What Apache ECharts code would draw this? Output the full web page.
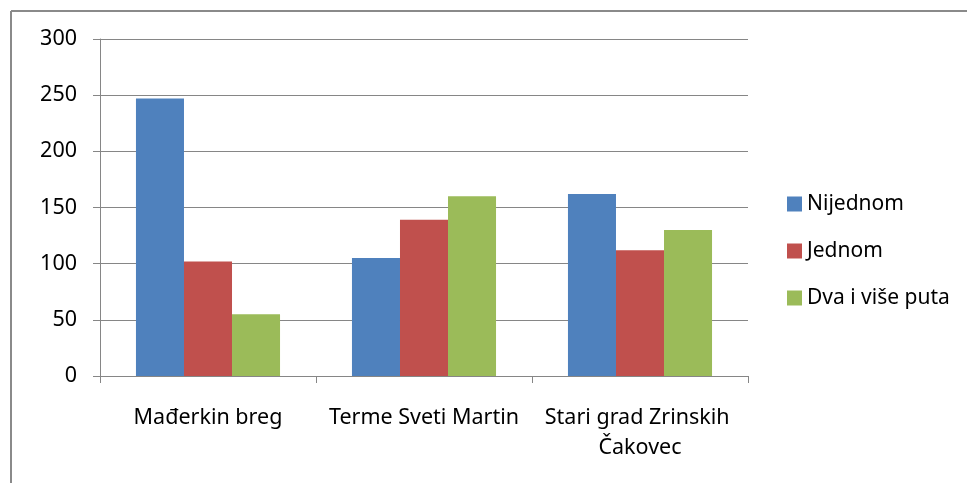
<!DOCTYPE html>
<html>
<head>
<meta charset="utf-8">
<script src="https://cdn.jsdelivr.net/npm/echarts@6/dist/echarts.min.js"></script>
<style>html,body{margin:0;padding:0;background:#fff;}#c{width:967px;height:483px;}</style>
</head>
<body>
<div id="c"></div>
<script>
const categories = ['Mađerkin breg', 'Terme Sveti Martin', 'Stari grad Zrinskih Čakovec'];
const seriesNames = ['Nijednom', 'Jednom', 'Dva i više puta'];
const nijednom = [247, 105, 162];
const jednom = [102, 139, 112];
const dvaIViše = [55, 160, 130];
const colors = ['#4F81BD', '#C0504D', '#9BBB59'];
const font = 'Noto Sans';

const chart = echarts.init(document.getElementById('c'), null, {renderer: 'canvas'});
const values = [nijednom, jednom, dvaIViše];
chart.setOption({
  animation: false,
  backgroundColor: '#fff',
  textStyle: {fontFamily: font},
  graphic: [
    {type: 'line', shape: {x1: 11, y1: 11, x2: 967, y2: 11}, style: {stroke: '#8a8a8a', lineWidth: 2}},
    {type: 'line', shape: {x1: 11, y1: 11, x2: 11, y2: 483}, style: {stroke: '#8a8a8a', lineWidth: 2}}
  ],
  grid: {left: 100, top: 39, right: 219, bottom: 107, containLabel: false},
  legend: {
    orient: 'vertical',
    left: 782,
    top: 184,
    itemWidth: 15,
    itemHeight: 15,
    itemGap: 17,
    icon: 'rect',
    textStyle: {fontFamily: font, fontSize: 21, color: '#000', lineHeight: 30},
    data: seriesNames
  },
  xAxis: {
    type: 'category',
    data: categories,
    axisLine: {lineStyle: {color: '#868686', width: 1}},
    axisTick: {show: true, length: 7, lineStyle: {color: '#868686'}},
    axisLabel: {fontFamily: font, fontSize: 21.5, color: '#000', margin: 27, width: 210, overflow: 'break', lineHeight: 30, interval: 0}
  },
  yAxis: {
    type: 'value',
    min: 0, max: 300, interval: 50,
    axisLine: {show: true, lineStyle: {color: '#868686'}},
    axisTick: {show: true, length: 7, lineStyle: {color: '#868686'}},
    splitLine: {lineStyle: {color: '#868686', width: 1}},
    axisLabel: {fontFamily: font, fontSize: 21.5, color: '#000', margin: 23}
  },
  series: seriesNames.map((n, i) => ({
    name: n,
    type: 'bar',
    data: values[i],
    itemStyle: {color: colors[i]},
    barGap: '0%',
    barCategoryGap: '33.3%'
  }))
});
</script>
</body>
</html>
